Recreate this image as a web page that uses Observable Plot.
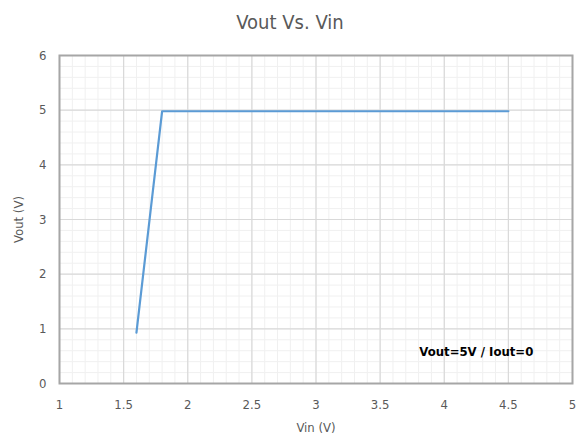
<!DOCTYPE html>
<html>
<head>
<meta charset="utf-8">
<script src="https://cdn.jsdelivr.net/npm/d3@7"></script>
<script src="https://cdn.jsdelivr.net/npm/@observablehq/plot@0.6"></script>
<style>
  html, body { margin: 0; padding: 0; background: #fff; }
  body { width: 580px; height: 439px; overflow: hidden; font-family: "DejaVu Sans Condensed", "DejaVu Sans", sans-serif; font-stretch: condensed; }
  #title { height: 40px; line-height: 44px; text-align: center; font-size: 20px; color: #595959; font-family: "DejaVu Sans Condensed", "DejaVu Sans", sans-serif; font-stretch: condensed; }
  svg text { font-stretch: condensed; }
</style>
</head>
<body>
<div id="title">Vout Vs. Vin</div>
<div id="chart"></div>
<script>
const vin = [1.6, 1.8, 4.5];
const vout = [0.93, 4.98, 4.98];
const xTicks = [1, 1.5, 2, 2.5, 3, 3.5, 4, 4.5, 5];
const yTicks = [0, 1, 2, 3, 4, 5, 6];
const noteText = ["Vout=5V / Iout=0"];
const noteX = [4.25];
const noteY = [0.58];

const xMinor = d3.range(10, 51).map(d => d / 10);
const yMinor = d3.range(0, 31).map(d => d / 5);
const lineData = vin.map((x, i) => ({x, y: vout[i]}));
const notes = noteText.map((t, i) => ({t, x: noteX[i], y: noteY[i]}));

const plot = Plot.plot({
  width: 580,
  height: 399,
  marginLeft: 59,
  marginRight: 8,
  marginTop: 15,
  marginBottom: 56,
  style: {fontFamily: '"DejaVu Sans Condensed", "DejaVu Sans", sans-serif', fontSize: "13px", color: "#595959", background: "#fff"},
  x: {domain: [1, 5], ticks: xTicks, tickSize: 0, tickPadding: 16, tickFormat: d => String(d), label: "Vin (V)", labelArrow: "none", labelAnchor: "center", labelOffset: 48},
  y: {domain: [0, 6], ticks: yTicks, tickSize: 0, tickPadding: 13, tickFormat: d => String(d), label: "Vout (V)", labelArrow: "none", labelAnchor: "center", labelOffset: 46},
  marks: [
    Plot.ruleX(xMinor, {stroke: "#f0f0f0", strokeWidth: 1}),
    Plot.ruleY(yMinor, {stroke: "#f0f0f0", strokeWidth: 1}),
    Plot.ruleX(xTicks, {stroke: "#d9d9d9", strokeWidth: 1.2}),
    Plot.ruleY(yTicks, {stroke: "#d9d9d9", strokeWidth: 1.2}),
    Plot.frame({stroke: "#a6a6a6", strokeWidth: 2}),
    Plot.line(lineData, {x: "x", y: "y", stroke: "#5b9bd5", strokeWidth: 2.2}),
    Plot.text(notes, {x: "x", y: "y", text: "t", fill: "#000", fontWeight: "bold", fontSize: 13})
  ]
});
document.getElementById("chart").appendChild(plot);
</script>
</body>
</html>
